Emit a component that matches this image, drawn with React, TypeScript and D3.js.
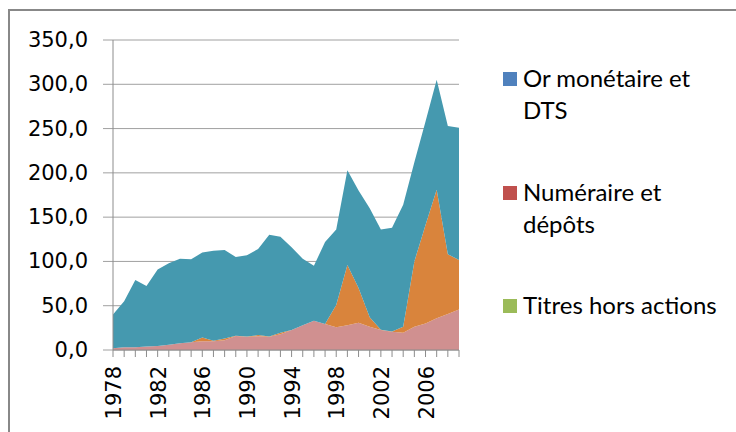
import React from 'react';
import * as d3 from 'd3';

const years = [1978, 1979, 1980, 1981, 1982, 1983, 1984, 1985, 1986, 1987, 1988, 1989, 1990, 1991, 1992, 1993,
  1994, 1995, 1996, 1997, 1998, 1999, 2000, 2001, 2002, 2003, 2004, 2005, 2006, 2007, 2008, 2009];

// bottom layer
const titres = [2, 3, 3, 4, 4.5, 6, 7.5, 8.7, 9.8, 10, 11, 15.8, 15, 15.4, 15, 17.7,
  22.6, 28, 33, 29.4, 25.6, 28, 30.9, 26.3, 22.6, 20.7, 19.6, 26.3, 30, 35.8, 40.6, 45.8];
// middle layer
const numeraire = [0, 0, 0, 0, 0, 0, 0, 0, 4.2, 0.5, 2, 0.2, 0.2, 1.4, 0.2, 1.9,
  0, 0, 0, 0, 25.2, 68, 39.1, 10.7, 0.4, 0.3, 6.7, 73.7, 111, 145.2, 67.4, 55.8];
// top layer
const orMonetaire = [38, 52, 76, 68.2, 86.5, 92, 95.5, 93.8, 96, 101.5, 100, 89, 91.8, 97.2, 114.8, 108.4,
  93.4, 75, 62, 92.6, 85.2, 107, 110, 123, 113, 117, 137.7, 112, 117, 124, 145, 149.4];

const yTicks = [0, 50, 100, 150, 200, 250, 300, 350];
const xLabelYears = [1978, 1982, 1986, 1990, 1994, 1998, 2002, 2006];

const areaColors = ['#D09090', '#D9843C', '#4599AF'];

const legendItems = [
  { lines: ['Or monétaire et', 'DTS'], color: '#4F81BD', baseline: 87 },
  { lines: ['Numéraire et', 'dépôts'], color: '#C0504D', baseline: 201 },
  { lines: ['Titres hors actions'], color: '#9BBB59', baseline: 314 },
];

export default function App() {
  const width = 736;
  const height = 432;
  const margin = { top: 40, left: 113, right: 277, bottom: 82 };
  const innerRight = width - margin.right;
  const innerBottom = height - margin.bottom;

  const rows = years.map((y, i) => ({ year: y, titres: titres[i], numeraire: numeraire[i], or: orMonetaire[i] }));
  const stack = d3.stack<any>().keys(['titres', 'numeraire', 'or']);
  const series = stack(rows);

  const x = d3.scaleLinear().domain([years[0], years[years.length - 1]]).range([margin.left, innerRight]);
  const y = d3.scaleLinear().domain([0, 350]).range([innerBottom, margin.top]);

  const area = d3.area<any>()
    .x(d => x(d.data.year))
    .y0(d => y(d[0]))
    .y1(d => y(d[1]));

  const numFmt = (v: number) => v.toFixed(1).replace('.', ',');
  const axisColor = '#8c8c8c';
  const tickFont = '"DejaVu Sans", Verdana, sans-serif';

  return (
    <svg width={width} height={height} style={{ position: 'absolute', left: 0, top: 0, background: '#fff' }}>
      {/* outer frame */}
      <rect x={9} y={10} width={760} height={460} fill="none" stroke="#888" strokeWidth={2} />

      {/* gridlines */}
      {yTicks.map(t => (
        <line key={t} x1={margin.left - 10} x2={innerRight} y1={y(t)} y2={y(t)} stroke="#a0a0a0" strokeWidth={1} />
      ))}

      {/* stacked areas */}
      {series.map((s, i) => (
        <path key={s.key} d={area(s) || ''} fill={areaColors[i]} />
      ))}

      {/* axes */}
      <line x1={margin.left} x2={margin.left} y1={margin.top} y2={innerBottom} stroke={axisColor} />
      <line x1={margin.left} x2={innerRight} y1={innerBottom} y2={innerBottom} stroke={axisColor} />
      {years.map(yr => (
        <line key={yr} x1={x(yr)} x2={x(yr)} y1={innerBottom} y2={innerBottom + 7} stroke={axisColor} />
      ))}

      {/* y labels */}
      {yTicks.map(t => (
        <text key={t} x={88} y={y(t)} textAnchor="end" dominantBaseline="central"
          style={{ fontFamily: tickFont, fontSize: 21, fill: '#000' }}>
          {numFmt(t)}
        </text>
      ))}

      {/* x labels */}
      {xLabelYears.map(yr => (
        <text key={yr} transform={`translate(${x(yr) + 1},${innerBottom + 16}) rotate(-90)`}
          textAnchor="end" dominantBaseline="central"
          style={{ fontFamily: tickFont, fontSize: 21, fill: '#000' }}>
          {yr}
        </text>
      ))}

      {/* legend */}
      {legendItems.map(item => (
        <g key={item.color}>
          <rect x={503} y={item.baseline - 15} width={14} height={14} fill={item.color} />
          {item.lines.map((ln, j) => (
            <text key={j} x={523} y={item.baseline + j * 32}
              style={{ fontFamily: 'Lato, "Open Sans", sans-serif', fontSize: 24, fill: '#000' }}>
              {ln}
            </text>
          ))}
        </g>
      ))}
    </svg>
  );
}
